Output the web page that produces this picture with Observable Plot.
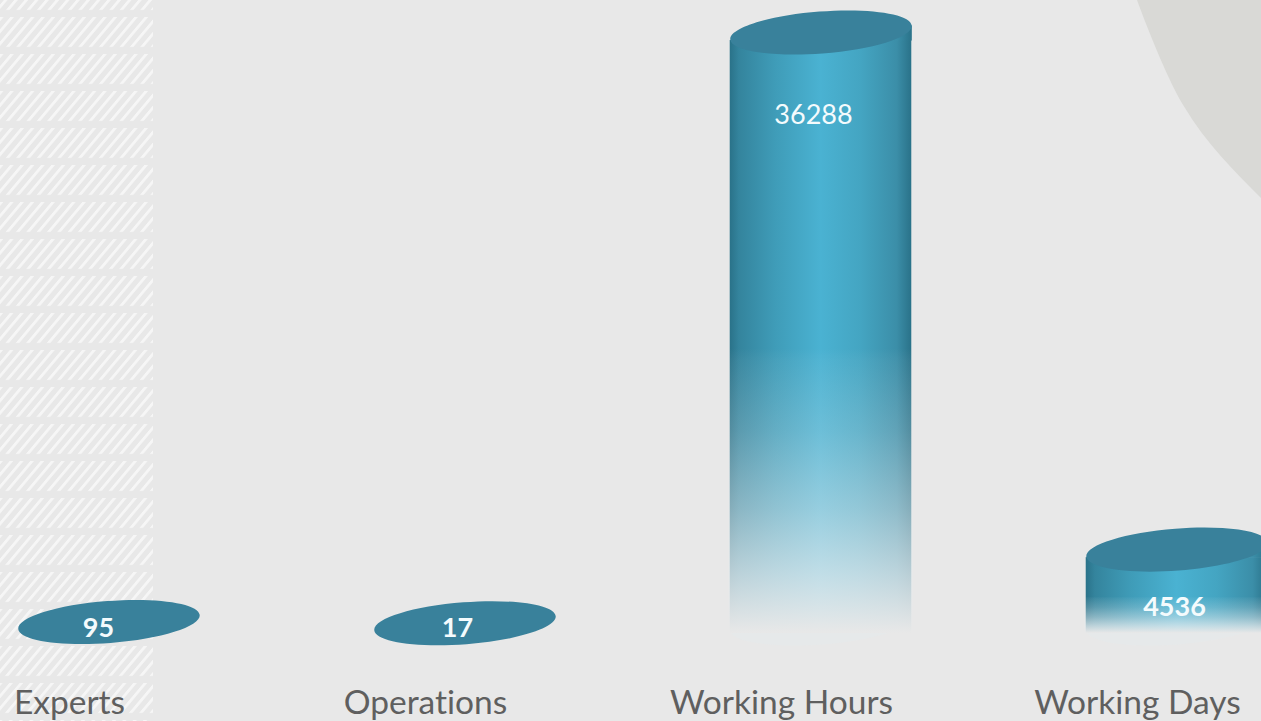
<!DOCTYPE html>
<html><head><meta charset="utf-8">
<script src="https://cdn.jsdelivr.net/npm/d3@7"></script>
<script src="https://cdn.jsdelivr.net/npm/@observablehq/plot@0.6"></script>
<style>
html,body{margin:0;padding:0;background:#e8e8e8;overflow:hidden}
#wrap{position:relative;width:1261px;height:721px;overflow:hidden}
#bg{position:absolute;left:0;top:0}
#chart{position:absolute;left:0;top:0}
#chart svg{background:transparent;display:block}
#chart svg text{font-variant-ligatures:none}
</style></head><body>
<div id="wrap">
<svg id="bg" width="1261" height="721">
<defs>
<filter id="soft" x="0" y="0" width="100%" height="100%"><feGaussianBlur stdDeviation="0.6"/></filter>
<pattern id="hatch" patternUnits="userSpaceOnUse" width="10.33" height="37" patternTransform="translate(0,17) skewX(-40)">
<rect x="0" y="0" width="3.6" height="30" fill="#fff" fill-opacity="0.6"/>
</pattern>
<linearGradient id="cyl" x1="0" x2="1" y1="0" y2="0">
<stop offset="0" stop-color="#2a7289"/>
<stop offset="0.05" stop-color="#34849d"/>
<stop offset="0.25" stop-color="#3f9cb8"/>
<stop offset="0.5" stop-color="#4ab2d2"/>
<stop offset="0.72" stop-color="#44a5c2"/>
<stop offset="0.92" stop-color="#3b8ea8"/>
<stop offset="1" stop-color="#2a7289"/>
</linearGradient>
<linearGradient id="fade" x1="0" x2="0" y1="0" y2="1">
<stop offset="0" stop-color="#e8ecee" stop-opacity="0"/>
<stop offset="0.52" stop-color="#e8ecee" stop-opacity="0"/>
<stop offset="0.54" stop-color="#e8ecee" stop-opacity="0.05"/>
<stop offset="0.66" stop-color="#e8ecee" stop-opacity="0.22"/>
<stop offset="0.79" stop-color="#e8ecee" stop-opacity="0.48"/>
<stop offset="0.9" stop-color="#e8ecee" stop-opacity="0.75"/>
<stop offset="1" stop-color="#e8e8e8" stop-opacity="1"/>
</linearGradient>
</defs>
<rect width="1261" height="721" fill="#e8e8e8"/>
<rect x="0" y="0" width="153" height="721" fill="url(#hatch)" filter="url(#soft)"/>
<path d="M1137,0 C1148,30 1170,85 1185,108 C1205,142 1235,172 1261,198 L1261,0 Z" fill="#d9d9d6"/>
</svg>
<div id="chart"></div>
</div>
<script>
const categories = ["Experts", "Operations", "Working Hours", "Working Days"];
const values = [95, 17, 36288, 4536];
const rows = categories.map((category, i) => ({category, value: values[i]}));
const tall = rows.filter(d => d.value > 1000);

function ellipsePath(ctx, a, b, deg) {
  const t = deg * Math.PI / 180, c = Math.cos(t), s = Math.sin(t), k = 0.5523;
  const P = (x, y) => [x * c - y * s, x * s + y * c];
  const seg = (p1, p2, p3) => ctx.bezierCurveTo(...P(...p1), ...P(...p2), ...P(...p3));
  ctx.moveTo(...P(a, 0));
  seg([a, k * b], [k * a, b], [0, b]);
  seg([-k * a, b], [-a, k * b], [-a, 0]);
  seg([-a, -k * b], [-k * a, -b], [0, -b]);
  seg([k * a, -b], [a, -k * b], [a, 0]);
  ctx.closePath();
}
const capSymbol = {draw(ctx) { ellipsePath(ctx, 91, 21, -4.4); }};
// wedge under the tilted cap that joins its raised right end to the cylinder wall
const collar = {draw(ctx) {
  ctx.moveTo(-90.8, 8); ctx.lineTo(90.8, 8); ctx.lineTo(90.8, -7); ctx.closePath();
}};

const valueFont = {fontFamily: "Lato", fontSize: 27, fill: "#f4fbfd", text: d => String(d.value)};
const chart = Plot.plot({
  width: 1261, height: 721,
  marginTop: 0, marginRight: 0, marginBottom: 30, marginLeft: 0,
  style: {background: "transparent", overflow: "visible"},
  x: {domain: categories, range: [-69.5, 1354.5], paddingInner: 0.49, paddingOuter: 0.245, round: false, label: null, axis: null},
  y: {domain: [0, 36288], range: [623, 32], axis: null},
  marks: [
    Plot.dot(tall, {x: "category", y: 0, symbol: capSymbol, fill: "#e6e9ea"}),
    Plot.barY(tall, {x: "category", y: "value", fill: "url(#cyl)", insetTop: 8, insetBottom: -10}),
    Plot.barY(tall, {x: "category", y: "value", fill: "url(#fade)", insetTop: 8, insetBottom: -10, insetLeft: -1, insetRight: -1}),
    Plot.dot(tall, {x: "category", y: "value", symbol: collar, fill: "url(#cyl)"}),
    Plot.dot(rows, {x: "category", y: "value", symbol: capSymbol, fill: "#39819b"}),
    Plot.text(rows.filter(d => d.category === "Experts"), {x: "category", y: "value", dx: -10.5, dy: 6, fontWeight: "bold", ...valueFont}),
    Plot.text(rows.filter(d => d.category === "Operations"), {x: "category", y: "value", dx: -7.5, dy: 5, fontWeight: "bold", ...valueFont}),
    Plot.text(rows.filter(d => d.category === "Working Hours"), {x: "category", y: "value", dx: -7.5, dy: 83, ...valueFont}),
    Plot.text(rows.filter(d => d.category === "Working Days"), {x: "category", y: "value", dx: -2.5, dy: 58, fontWeight: "bold", ...valueFont}),
    Plot.axisX({anchor: "bottom", tickSize: 0, tickPadding: -1, label: null, dx: -39.5, fontSize: 33.5, fontFamily: "Lato", fill: "#5f5f5f"})
  ]
});
document.getElementById("chart").append(chart);
</script>
</body></html>
